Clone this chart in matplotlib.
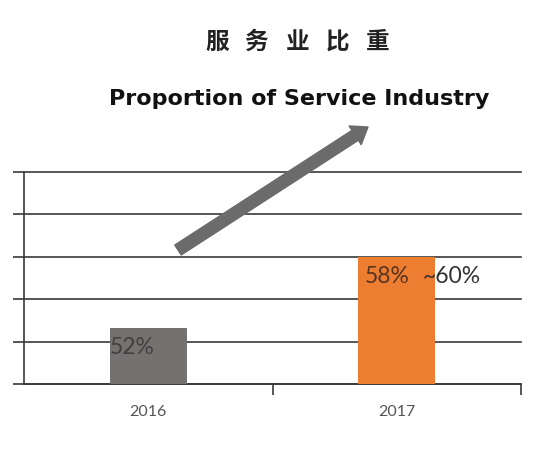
import matplotlib
matplotlib.use("Agg")
import matplotlib.pyplot as plt
import numpy as np
from matplotlib.patches import FancyArrowPatch

categories = ["2016", "2017"]
values = [52, 58]
bar_labels = ["52%", "58%"]
extra_label = "~60%"
title_cn = "服务业比重"
subtitle_en = "Proportion of Service Industry"

W, H = 554, 449
fig = plt.figure(figsize=(W / 100, H / 100), dpi=100)
fig.patch.set_facecolor("white")

def fx(px):
    return px / W

def fy(py):
    return 1 - py / H

ax = fig.add_axes([fx(24), fy(384), fx(521) - fx(24), fy(172) - fy(384)])

# y scale: 6 pct points = 71 px; grid step = 42.4 px
unit = 6 / (71 / 42.4)
ybot = values[1] - 3 * unit
ytop = ybot + 5 * unit
ax.set_ylim(ybot, ytop)
ax.set_xlim(-0.5, 1.5)

x = np.arange(len(categories))
colors = ["#767171", "#ED7D31"]
ax.bar(x, values, width=0.31, color=colors, zorder=3, bottom=0)

gridc = "#3a3a3a"
ticks = np.linspace(ybot, ytop, 6)
ax.set_yticks(ticks)
ax.set_yticklabels([])
for t in ticks:
    ax.axhline(t, color=gridc, lw=1.2, zorder=1, clip_on=False)
ax.tick_params(axis="y", direction="out", length=8, width=1.2, color=gridc)

for s in ["top", "right"]:
    ax.spines[s].set_visible(False)
ax.spines["left"].set_color(gridc)
ax.spines["left"].set_linewidth(1.2)
ax.spines["bottom"].set_color(gridc)
ax.spines["bottom"].set_linewidth(1.2)

ax.set_xticks(x)
ax.set_xticklabels(categories, fontsize=11.5, color="#555555", family=["Lato", "DejaVu Sans"])
ax.tick_params(axis="x", which="major", length=0, pad=15)
ax.set_xticks([0.5, 1.5], minor=True)
ax.tick_params(axis="x", which="minor", length=8, width=1.2, color=gridc, direction="out")

# value labels
lab_fs = 16.5
ax.text(x[0] - 0.155, values[0] - 0.22 * unit, bar_labels[0], ha="left", va="top",
        fontsize=lab_fs, color="#404040", family=["Lato", "DejaVu Sans"], zorder=4)
ax.text(x[1] - 0.13, values[1] - 0.22 * unit, bar_labels[1], ha="left", va="top",
        fontsize=lab_fs, color="#5a3520", family=["Lato", "DejaVu Sans"], zorder=4)
ax.text(x[1] + 0.105, values[1] - 0.22 * unit, extra_label, ha="left", va="top",
        fontsize=lab_fs, color="#333333", family=["Lato", "DejaVu Sans"], zorder=4)

# titles (characters spread out)
n = len(title_cn)
xs = np.linspace(217, 378, n)
for ch, px in zip(title_cn, xs):
    fig.text(fx(px), fy(42), ch, ha="center", va="center", fontsize=17,
             fontweight="bold", color="#222222", family=["Noto Sans CJK SC", "DejaVu Sans"])
fig.text(fx(299), fy(99), subtitle_en, ha="center", va="center", fontsize=16,
         fontweight="bold", color="#111111", family=["DejaVu Sans"])

# arrow
arr = FancyArrowPatch((fx(178), fy(250)), (fx(368), fy(127)), transform=fig.transFigure,
                      arrowstyle="simple,head_width=16,head_length=11,tail_width=8.5",
                      mutation_scale=1, color="#6b6b6b", shrinkA=0, shrinkB=0)
fig.add_artist(arr)

fig.savefig("out.png", dpi=100, facecolor="white")
